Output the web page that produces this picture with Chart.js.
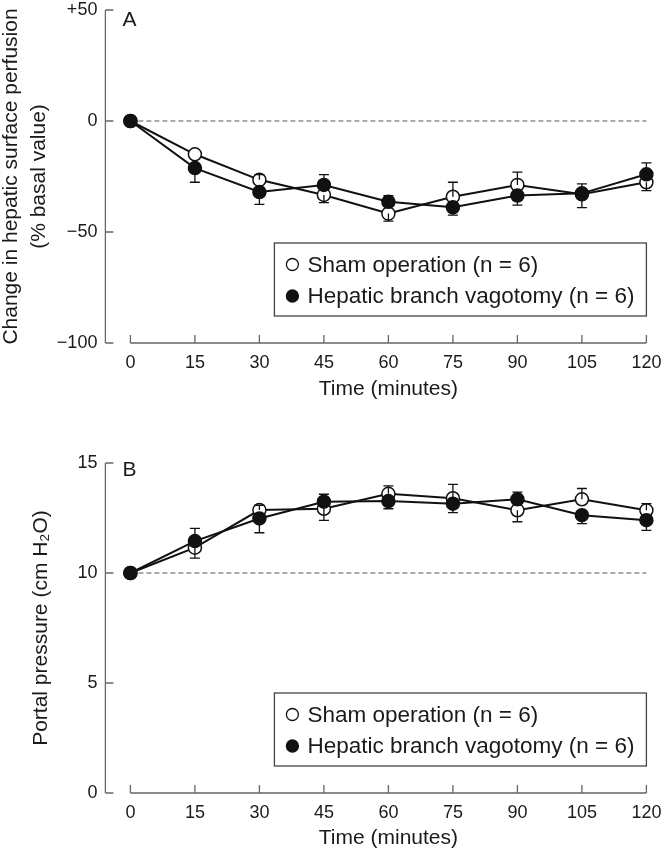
<!DOCTYPE html>
<html>
<head>
<meta charset="utf-8">
<title>Hepatic perfusion and portal pressure</title>
<script src="https://cdn.jsdelivr.net/npm/chart.js@4.4.1/dist/chart.umd.min.js"></script>
<style>
  html, body { margin: 0; padding: 0; background: #fff; }
  #wrap { position: relative; width: 663px; height: 853px; overflow: hidden; }
  .panel { position: absolute; left: 0; }
  #panelA { top: 0; }
  #panelB { top: 420px; }
</style>
</head>
<body>
<div id="wrap">
  <div class="panel" id="panelA"><canvas id="chartA" width="663" height="420"></canvas></div>
  <div class="panel" id="panelB"><canvas id="chartB" width="663" height="433"></canvas></div>
</div>
<script>
// ---- data ----
var times = [0, 15, 30, 45, 60, 75, 90, 105, 120];
var xTitle = 'Time (minutes)';
var shamLabel = 'Sham operation (n = 6)';
var hepLabel = 'Hepatic branch vagotomy (n = 6)';

// A: change in hepatic surface perfusion (% basal value)
var shamPerf = [0, -15, -26.5, -33.3, -41.7, -34.1, -28.8, -33, -27.6];
var shamPerfErr = [0, 0, 2.3, -3.5, -3.4, 6.5, 5.8, -6, -3.8];   // + drawn up, - drawn down
var hepPerf = [0, -21.2, -32, -28.8, -36.4, -38.9, -33.6, -32.6, -24];
var hepPerfErr = [0, -6.4, -5.6, 4.6, 2.8, -3.5, -4.3, 4.3, 5.1];
var perfTicks = [-100, -50, 0, 50];
var perfTickLabels = ['\u2212100', '\u221250', '0', '+50'];
var perfBase = 0;

// B: portal pressure (cm H2O)
var shamPort = [10, 11.15, 12.86, 12.92, 13.6, 13.4, 12.85, 13.35, 12.85];
var shamPortErr = [0, -0.47, 0.22, -0.53, 0.36, 0.63, -0.52, 0.49, 0.3];
var hepPort = [10, 11.45, 12.48, 13.24, 13.27, 13.15, 13.35, 12.63, 12.4];
var hepPortErr = [0, 0.58, -0.65, 0.34, -0.35, -0.41, 0.33, -0.39, -0.46];
var portTicks = [0, 5, 10, 15];
var portTickLabels = ['0', '5', '10', '15'];
var portBase = 10;

var FONT = '"Liberation Sans", Arial, sans-serif';
var INK = '#1a1a1a';
var AXIS = '#666';

function xy(vals) {
    return vals.map(function (v, i) { return { x: times[i], y: v }; });
}

// axes with inward ticks, error bars, legend box and panel letter
var paperPlugin = {
    id: 'paper',
    beforeDatasetsDraw: function (chart, args, o) {
        var ctx = chart.ctx, xs = chart.scales.x, ys = chart.scales.y, area = chart.chartArea;
        var ax = area.left - 25, by = area.bottom, tl = 8;
        ctx.save();
        ctx.strokeStyle = AXIS;
        ctx.lineWidth = 1.3;
        ctx.beginPath();
        ctx.moveTo(ax, ys.getPixelForValue(o.yTicks[o.yTicks.length - 1]));
        ctx.lineTo(ax, ys.getPixelForValue(o.yTicks[0]));
        o.yTicks.forEach(function (v) {
            var py = ys.getPixelForValue(v);
            ctx.moveTo(ax, py); ctx.lineTo(ax + tl, py);
        });
        ctx.moveTo(xs.getPixelForValue(times[0]), by);
        ctx.lineTo(xs.getPixelForValue(times[times.length - 1]), by);
        times.forEach(function (t) {
            var px = xs.getPixelForValue(t);
            ctx.moveTo(px, by); ctx.lineTo(px, by - tl);
        });
        ctx.stroke();
        ctx.restore();
    },
    afterDatasetsDraw: function (chart, args, o) {
        var ctx = chart.ctx, xs = chart.scales.x, ys = chart.scales.y, area = chart.chartArea;
        ctx.save();

        // error bars (one sided, like the original)
        ctx.strokeStyle = '#111';
        ctx.lineWidth = 1.3;
        o.errs.forEach(function (errs, d) {
            var vals = o.vals[d];
            ctx.beginPath();
            errs.forEach(function (e, i) {
                if (!e) return;
                var px = xs.getPixelForValue(times[i]);
                var y0 = ys.getPixelForValue(vals[i]);
                var y1 = ys.getPixelForValue(vals[i] + e);
                ctx.moveTo(px, y0); ctx.lineTo(px, y1);
                ctx.moveTo(px - 5, y1); ctx.lineTo(px + 5, y1);
            });
            ctx.stroke();
        });

        // legend box
        var lw = 372, lh = 73;
        var lx = area.right - lw, ly = area.bottom - 27 - lh;
        ctx.fillStyle = '#fff';
        ctx.fillRect(lx, ly, lw, lh);
        ctx.strokeStyle = '#444';
        ctx.lineWidth = 1.3;
        ctx.strokeRect(lx, ly, lw, lh);
        var rows = [
            { text: shamLabel, fill: '#fff', y: ly + 21.5 },
            { text: hepLabel, fill: '#111', y: ly + 53 }
        ];
        ctx.font = '22.5px ' + FONT;
        ctx.textBaseline = 'middle';
        ctx.textAlign = 'left';
        rows.forEach(function (r) {
            ctx.beginPath();
            ctx.arc(lx + 18, r.y, 6, 0, Math.PI * 2);
            ctx.fillStyle = r.fill;
            ctx.fill();
            ctx.lineWidth = 1.3;
            ctx.strokeStyle = '#111';
            ctx.stroke();
            ctx.fillStyle = INK;
            ctx.fillText(r.text, lx + 33, r.y + 1);
        });

        // panel letter
        ctx.font = '21px ' + FONT;
        ctx.fillStyle = INK;
        ctx.fillText(o.letter, area.left - 8, area.top + o.letterDy);
        ctx.restore();
    }
};

function makePanel(id, p) {
    var canvas = document.getElementById(id);
    var ctx = canvas.getContext('2d');
    var markerBase = { borderColor: '#111', borderWidth: 2, pointRadius: 6.5, pointHoverRadius: 6.5,
        pointBorderColor: '#111', pointBorderWidth: 1.5, tension: 0, clip: false };
    return new Chart(ctx, {
        type: 'line',
        data: {
            datasets: [
                Object.assign({ label: hepLabel, data: xy(p.hep), order: 0, pointBackgroundColor: '#111' }, markerBase),
                Object.assign({ label: shamLabel, data: xy(p.sham), order: 1, pointBackgroundColor: '#fff' }, markerBase),
                {
                    label: 'basal', order: 2, clip: false,
                    data: [{ x: times[0], y: p.base }, { x: times[times.length - 1], y: p.base }],
                    borderColor: '#555', borderWidth: 1, borderDash: [5, 3], pointRadius: 0
                }
            ]
        },
        options: {
            responsive: false,
            animation: false,
            events: [],
            layout: { padding: { top: p.top, right: 16.6, left: 0, bottom: 0 } },
            plugins: {
                legend: { display: false },
                tooltip: { enabled: false },
                paper: {
                    yTicks: p.yTicks,
                    errs: [p.hepErr, p.shamErr],
                    vals: [p.hep, p.sham],
                    letter: p.letter,
                    letterDy: p.letterDy
                }
            },
            scales: {
                x: {
                    type: 'linear', min: times[0], max: times[times.length - 1],
                    afterBuildTicks: function (s) { s.ticks = times.map(function (t) { return { value: t }; }); },
                    afterFit: function (s) {
                        s.height = p.xHeight;
                        s.paddingLeft = 0; s.paddingRight = 0;
                    },
                    grid: { display: false, drawTicks: false },
                    border: { display: false },
                    ticks: { color: INK, font: { family: FONT, size: 18, lineHeight: 1 }, padding: 11,
                        maxRotation: 0, autoSkip: false },
                    title: { display: true, text: xTitle, color: INK,
                        font: { family: FONT, size: 21, lineHeight: 1.2 },
                        padding: { top: 0, bottom: p.xTitlePad } }
                },
                y: {
                    type: 'linear', min: p.yTicks[0], max: p.yTicks[p.yTicks.length - 1],
                    afterBuildTicks: function (s) { s.ticks = p.yTicks.map(function (v) { return { value: v }; }); },
                    afterFit: function (s) {
                        s.width = 130.4;
                        s.paddingTop = 0; s.paddingBottom = 0;
                    },
                    grid: { display: false, drawTicks: false },
                    border: { display: false },
                    ticks: {
                        color: INK, font: { family: FONT, size: 18, lineHeight: 1 }, padding: 33,
                        callback: function (v) { return p.yTickLabels[p.yTicks.indexOf(v)]; }
                    },
                    title: { display: true, text: p.yTitle, color: INK,
                        font: { family: FONT, size: 21, lineHeight: 1.35 },
                        padding: { top: p.yTitlePad, bottom: 0 } }
                }
            }
        },
        plugins: [paperPlugin]
    });
}

makePanel('chartA', {
    sham: shamPerf, shamErr: shamPerfErr, hep: hepPerf, hepErr: hepPerfErr,
    yTicks: perfTicks, yTickLabels: perfTickLabels, base: perfBase,
    yTitle: ['Change in hepatic surface perfusion', '(% basal value)'],
    letter: 'A', letterDy: 10, top: 10, xHeight: 77, xTitlePad: 18, yTitlePad: -3
});

makePanel('chartB', {
    sham: shamPort, shamErr: shamPortErr, hep: hepPort, hepErr: hepPortErr,
    yTicks: portTicks, yTickLabels: portTickLabels, base: portBase,
    yTitle: 'Portal pressure (cm H\u2082O)',
    letter: 'B', letterDy: 7, top: 43, xHeight: 60, xTitlePad: 2, yTitlePad: 27
});
</script>
</body>
</html>
